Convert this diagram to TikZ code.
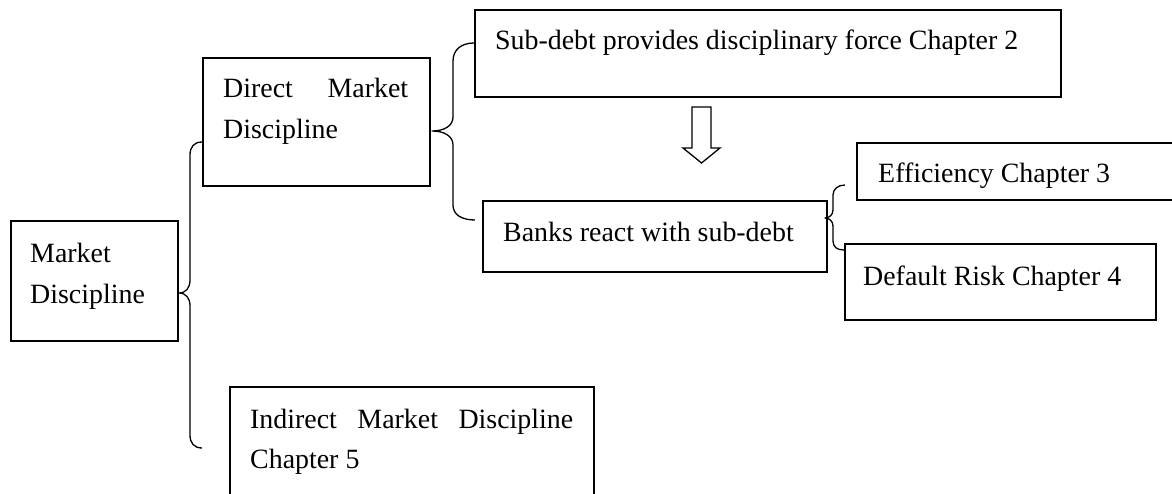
\documentclass[tikz,border=0pt]{standalone}
\usepackage{fontspec}
\setmainfont{Liberation Serif}
\usetikzlibrary{calc}
\begin{document}
\begin{tikzpicture}[x=1pt,y=-1pt,
  box/.style={draw=black,line width=1.7pt,rectangle,inner sep=0pt,anchor=north west},
  txt/.style={inner sep=0pt,anchor=base west,font=\fontsize{27.9pt}{41pt}\selectfont},
  brace/.style={draw=black,line width=1.3pt,line join=round},
  blockarrow/.style={draw=black,line width=1.3pt,fill=white,line join=miter}]
\useasboundingbox (0,0) rectangle (1172,494);
% boxes
\node[box,minimum width=167pt,minimum height=120pt] (md) at (10,220) {};
\node[box,minimum width=227pt,minimum height=128pt] (dmd) at (202,57) {};
\node[box,minimum width=586pt,minimum height=87pt] (sub) at (474,9) {};
\node[box,minimum width=344pt,minimum height=71pt] (banks) at (482,200) {};
\node[box,minimum width=320pt,minimum height=57pt] (eff) at (856,142) {};
\node[box,minimum width=311pt,minimum height=76pt] (def) at (844,243) {};
\node[box,minimum width=364pt,minimum height=120pt] (ind) at (229,386) {};
% texts
\node[txt] (mdt1) at (30,262) {Market};
\node[txt] (mdt2) at (30,303) {Discipline};
\node[txt] (dmdt1) at (223,98) {\makebox[185pt][s]{Direct Market}};
\node[txt] (dmdt2) at (223,139) {Discipline};
\node[txt] (subt) at (495,50) {Sub-debt provides disciplinary force Chapter 2};
\node[txt] (bankst) at (503,242) {Banks react with sub-debt};
\node[txt] (efft) at (878,183) {Efficiency Chapter 3};
\node[txt] (deft) at (863,286) {Default Risk Chapter 4};
\node[txt] (indt1) at (250,428) {\makebox[323pt][s]{Indirect Market Discipline}};
\node[txt] (indt2) at (250,468) {Chapter 5};
% brace end points
\coordinate (b1t) at (md.east |- 0,293);
\coordinate (b1a) at (dmd.west |- 0,142);
\coordinate (b1b) at (202,448);
\coordinate (b2t) at (432,131);
\coordinate (b2a) at (sub.west |- 0,43);
\coordinate (b2b) at (475,220);
\coordinate (b3t) at (825,218);
\coordinate (b3a) at (845,185);
\coordinate (b3b) at (def.west |- 0,250);
% braces
\path[brace] (b1a) .. controls (194,142) and (190,147) .. (190,155) -- (190,280)
  .. controls (190,288) and (186,293) .. (b1t)
  .. controls (186,293) and (190,298) .. (190,306) -- (190,435)
  .. controls (190,443) and (194,448) .. (b1b);
\path[brace] (b2a) .. controls (461,43) and (453,50) .. (453,61) -- (453,117)
  .. controls (453,126) and (444,131) .. (b2t)
  .. controls (444,131) and (453,136) .. (453,145) -- (453,205)
  .. controls (453,215) and (462,220) .. (b2b);
\path[brace] (b3a) .. controls (838,185) and (833,189) .. (833,195) -- (833,210)
  .. controls (833,215) and (829,218) .. (b3t)
  .. controls (829,218) and (833,221) .. (833,226) -- (833,241)
  .. controls (833,247) and (837,250) .. (b3b);
% block arrow between sub-debt box and banks box
\coordinate (arrtop) at (701.5,107);
\path[blockarrow] ($(arrtop)+(-9.5,0)$) -- ++(19,0) -- ++(0,41) -- ++(9,0) -- (701.5,163) -- (683,148) -- (692,148) -- cycle;
\end{tikzpicture}
\end{document}
